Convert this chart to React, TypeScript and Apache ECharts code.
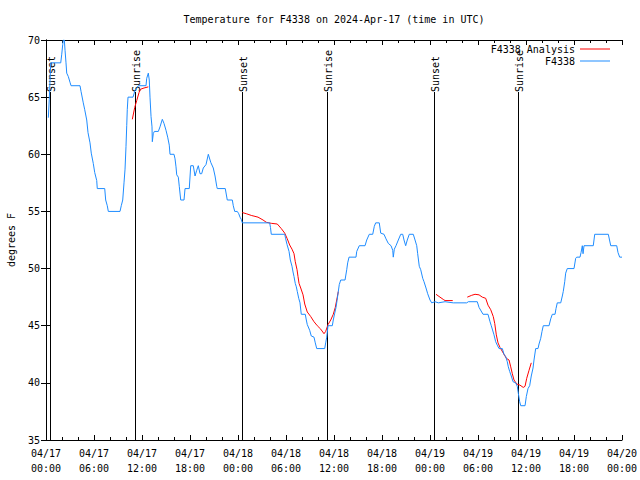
import React, { useEffect, useRef } from "react";
import * as echarts from "echarts";

// hours since 2024-04-17 00:00 UTC
const xTickLabels = [
  "04/17\n00:00", "04/17\n06:00", "04/17\n12:00", "04/17\n18:00",
  "04/18\n00:00", "04/18\n06:00", "04/18\n12:00", "04/18\n18:00",
  "04/19\n00:00", "04/19\n06:00", "04/19\n12:00", "04/19\n18:00",
  "04/20\n00:00",
];

const f4338Hours = [
  0.29, 0.41, 0.59, 1.84, 1.96, 2.09, 2.16, 2.29, 2.38, 2.5, 2.59, 2.79, 3.0, 3.13,
  4.25, 4.38, 4.66, 4.84, 5.09, 5.25, 5.5, 5.66, 5.91, 6.09, 6.34, 6.41, 7.34, 7.46,
  7.66, 7.79, 9.25, 9.41, 9.59, 9.75, 9.88, 10.0, 10.09, 10.16, 10.25, 10.5, 10.88,
  11.13, 11.54, 12.5, 12.59, 12.79, 12.91, 13.0, 13.13, 13.25, 13.29, 13.41, 13.54,
  14.04, 14.25, 14.54, 14.75, 15.0, 15.21, 15.41, 15.5, 16.0, 16.13, 16.25, 16.34,
  16.54, 16.66, 16.84, 17.25, 17.38, 17.91, 18.09, 18.41, 18.63, 18.84, 19.04, 19.25,
  19.46, 19.66, 20.0, 20.29, 20.59, 20.91, 21.13, 21.34, 21.41, 22.41, 22.66, 23.29,
  23.41, 23.59, 23.91, 24.09, 24.25, 24.41, 24.54, 27.96, 28.06, 28.16, 29.84, 29.96,
  30.13, 30.38, 30.54, 30.75, 30.88, 31.0, 31.16, 31.29, 31.41, 31.59, 31.75, 31.91,
  32.41, 32.54, 32.66, 32.96, 33.16, 33.5, 33.66, 33.84, 34.84, 34.96, 35.09, 35.25,
  35.79, 35.91, 36.09, 36.25, 36.38, 36.54, 36.66, 36.84, 37.38, 37.59, 37.71, 37.88,
  38.75, 38.84, 39.16, 39.88, 40.09, 40.41, 40.84, 41.04, 41.21, 41.66, 41.84, 42.25,
  42.5, 42.79, 43.13, 43.34, 43.41, 43.54, 43.75, 44.04, 44.34, 44.59, 44.75, 44.96,
  45.16, 45.41, 45.91, 46.13, 46.34, 46.46, 46.66, 46.84, 47.09, 47.25, 47.5, 47.71,
  48.0, 48.21, 48.63, 49.04, 49.88, 50.91, 52.59, 52.79, 53.91, 54.13, 54.63, 55.25,
  55.5, 55.66, 56.0, 56.21, 56.41, 56.63, 57.04, 57.25, 57.46, 57.66, 57.79, 57.96,
  58.16, 58.38, 58.71, 58.91, 59.04, 59.21, 59.34, 59.88, 60.04, 60.25, 60.46, 60.66,
  60.88, 61.0, 61.21, 61.5, 61.63, 61.84, 62.0, 62.16, 62.88, 63.09, 63.29, 63.63,
  63.75, 63.91, 64.34, 64.54, 64.66, 64.84, 64.96, 65.16, 66.0, 66.21, 66.34, 66.75,
  66.88, 67.04, 67.13, 67.25, 68.41, 68.59, 70.29, 70.59, 71.34, 71.5, 71.71, 72.0,
];
const f4338Temps = [
  63.2, 64.8, 68, 68, 68.7, 69.6, 70, 70, 69.1, 68, 67.1, 66.8, 66.3, 66,
  66, 65.5, 64.5, 63.9, 63, 61.9, 61, 60.1, 59.2, 58.4, 57.7, 57, 57, 56,
  55.5, 55, 55, 55.5, 56, 57.5, 58.7, 60.7, 62.5, 63.9, 65, 65, 65,
  65.6, 66, 66, 66.65, 67.1, 66.5, 65, 63.3, 62.4, 61.1, 61.8, 62,
  62, 62.4, 63.06, 62.7, 62.1, 61.5, 60.8, 60, 60, 59.6, 58.9, 58.2,
  58, 57.2, 56, 56, 57, 57, 59, 59, 58.1, 58.6, 59, 58.3,
  58.3, 58.8, 59.1, 60, 59.3, 58.8, 58.1, 57.2, 57, 57, 56, 56,
  55.5, 55, 55, 54.8, 54.5, 54.3, 54, 54, 53.6, 53, 53, 52.6,
  52.1, 51.5, 50.75, 50.2, 49.7, 49.3, 48.7, 48.4, 48, 47.4, 47, 46,
  46, 45.5, 45.1, 44.6, 44.1, 44, 43.5, 43, 43, 43.5, 44, 45,
  45, 45.5, 46.1, 46.6, 47.2, 48, 48.6, 49, 49, 49.9, 50.5, 51,
  51, 51.5, 52, 52, 52.5, 53, 53, 53.7, 54, 54, 53.1, 53,
  52.6, 52.2, 52, 51.6, 51, 51.7, 52, 52.5, 53, 53, 52.5, 52,
  52.5, 53, 53, 52.5, 52, 51.3, 50.2, 49.9, 49.15, 48.85, 48.3, 47.8,
  47.25, 47, 47.1, 47, 47.1, 47, 47, 47.1, 47.1, 46.6, 46, 46,
  45.35, 45, 44.2, 43.6, 43.3, 43, 43, 42.5, 42.3, 41.85, 41.4, 41,
  40.6, 40.1, 40, 39.7, 39.1, 38.35, 38, 38, 38.8, 39.5, 39.75, 40.6,
  41.3, 42, 43, 43, 43.4, 43.9, 44.5, 45, 45, 45.6, 46, 46,
  46.5, 47, 47, 47.6, 48, 48.85, 49.6, 50, 50, 50.9, 51, 51,
  51.4, 52, 51.3, 52, 52, 53, 53, 52, 52, 51.4, 51, 51,
];

const analysisHours = [
  [10.79, 11.09, 11.34, 11.63, 11.84, 12.25, 12.79],
  [24.54, 25.04, 25.66, 26.5, 27.13, 27.54, 28.16, 28.91, 29.41, 29.84, 30.16, 30.46,
    30.75, 31.0, 31.16, 31.38, 31.5, 31.63, 31.84, 32.13, 32.34, 32.66, 33.09, 33.5,
    33.91, 34.34, 34.75, 34.96, 35.25, 35.59, 35.91, 36.16, 36.41, 36.54],
  [48.75, 49.25, 49.66, 49.88, 50.84],
  [52.66, 53.21, 53.63, 54.13, 54.54, 54.96, 55.25, 55.59, 55.91, 56.09, 56.29, 56.5,
    56.75, 57.54, 57.88, 58.09, 58.29, 58.5, 58.84, 59.25, 59.66, 59.88, 60.09, 60.38,
    60.66],
];
const analysisTemps = [
  [63.06, 64.1, 64.7, 65.4, 65.7, 65.8, 65.9],
  [54.9, 54.8, 54.65, 54.5, 54.25, 54.05, 53.96, 53.9, 53.5, 53.1, 52.6, 52.06,
    51.7, 51.3, 50.6, 49.9, 49.3, 48.7, 48.3, 47.7, 46.9, 46.2, 45.8, 45.35,
    45.0, 44.7, 44.3, 44.5, 45.1, 45.5, 46, 46.6, 47.5, 48],
  [47.75, 47.5, 47.3, 47.2, 47.2],
  [47.5, 47.66, 47.75, 47.7, 47.5, 47.4, 46.8, 46.4, 45.8, 45.2, 44.2, 43.5,
    43.1, 42.15, 42.0, 41.4, 40.8, 40.25, 39.9, 39.8, 39.6, 39.7, 40.4, 41.1,
    41.75],
];

const sunEventHours = [0.5, 11.13, 24.5, 35.12, 48.5, 59.05];
const sunEventLabels = ["Sunset", "Sunrise", "Sunset", "Sunrise", "Sunset", "Sunrise"];
const sunLineTop = 65.45;

const MONO = '"DejaVu Sans Mono", "Liberation Mono", monospace';
const RED = "#ff0000";
const BLUE = "#1e8cff";

export default function App() {
  const ref = useRef<HTMLDivElement>(null);
  useEffect(() => {
    if (!ref.current) return;
    const chart = echarts.init(ref.current, null, { renderer: "svg" });
    const axisCommon = {
      axisLine: { show: true, lineStyle: { color: "#000", width: 1 } },
      splitLine: { show: false },
    };
    const xBase = {
      type: "value",
      min: 0,
      max: 72,
      interval: 6,
      ...axisCommon,
      axisTick: { show: true, inside: true, length: 5, lineStyle: { color: "#000" } },
      minorTick: { show: true, splitNumber: 3, length: 3, lineStyle: { color: "#000" } },
      minorSplitLine: { show: false },
    };
    const yBase = {
      type: "value",
      min: 35,
      max: 70,
      interval: 5,
      ...axisCommon,
      axisTick: { show: true, inside: true, length: 5, lineStyle: { color: "#000" } },
    };
    const analysisSeries = analysisHours.map((hs, i) => ({
      type: "line",
      name: "F4338 Analysis",
      data: hs.map((h, j) => [h, analysisTemps[i][j]]),
      showSymbol: false,
      symbol: "none",
      color: RED,
      lineStyle: { color: RED, width: 1 },
      z: 3,
    }));
    chart.setOption({
      animation: false,
      backgroundColor: "#fff",
      grid: {
        left: 46,
        right: 18,
        top: 40,
        bottom: 40,
        show: false,
        containLabel: false,
        outerBoundsMode: "none",
      },
      graphic: [
        {
          type: "text",
          x: 334,
          y: 19,
          style: {
            text: "Temperature for F4338 on 2024-Apr-17 (time in UTC)",
            textAlign: "center",
            textVerticalAlign: "middle",
            font: `10px ${MONO}`,
            fill: "#000",
          },
        },
      ],
      legend: [
        {
          data: ["F4338 Analysis"],
          right: 30,
          top: 44,
          align: "right",
          icon: "rect",
          itemWidth: 30,
          itemHeight: 1,
          padding: 0,
          textStyle: { fontFamily: MONO, fontSize: 10, color: "#000" },
        },
        {
          data: ["F4338"],
          right: 30,
          top: 56,
          align: "right",
          icon: "rect",
          itemWidth: 30,
          itemHeight: 1,
          padding: 0,
          textStyle: { fontFamily: MONO, fontSize: 10, color: "#000" },
        },
      ],
      xAxis: [
        {
          ...xBase,
          position: "bottom",
          axisLabel: {
            show: true,
            margin: 6,
            fontFamily: MONO,
            fontSize: 10,
            lineHeight: 15,
            color: "#000",
            formatter: (v: number) => xTickLabels[Math.round(v / 6)] ?? "",
          },
        },
        { ...xBase, position: "top", axisLabel: { show: false } },
      ],
      yAxis: [
        {
          ...yBase,
          position: "left",
          name: "degrees F",
          nameLocation: "middle",
          nameRotate: 90,
          nameGap: 30,
          nameTextStyle: { fontFamily: MONO, fontSize: 10, color: "#000" },
          axisLabel: { show: true, margin: 6, fontFamily: MONO, fontSize: 10, color: "#000" },
        },
        { ...yBase, position: "right", axisLabel: { show: false } },
      ],
      series: [
        {
          type: "custom",
          name: "sun",
          data: sunEventHours.map((h) => [h, 35]),
          encode: { x: 0, y: 1 },
          clip: false,
          z: 1,
          renderItem: (params: any, api: any) => {
            const h = api.value(0);
            const top = api.coord([h, sunLineTop]);
            const bot = api.coord([h, 35]);
            const x = Math.round(top[0]) + 0.5;
            return {
              type: "group",
              children: [
                {
                  type: "line",
                  shape: { x1: x, y1: top[1], x2: x, y2: bot[1] },
                  style: { stroke: "#000", lineWidth: 1 },
                },
                {
                  type: "text",
                  x: x + 0.5,
                  y: top[1],
                  rotation: Math.PI / 2,
                  style: {
                    text: sunEventLabels[params.dataIndex],
                    textAlign: "left",
                    textVerticalAlign: "middle",
                    font: `10px ${MONO}`,
                    fill: "#000",
                  },
                },
              ],
            };
          },
        },
        ...analysisSeries,
        {
          type: "line",
          name: "F4338",
          data: f4338Hours.map((h, i) => [h, f4338Temps[i]]),
          showSymbol: false,
          symbol: "none",
          color: BLUE,
          lineStyle: { color: BLUE, width: 1 },
          z: 4,
        },
      ],
    });
    return () => chart.dispose();
  }, []);
  return (
    <div
      ref={ref}
      style={{ position: "fixed", left: 0, top: 0, width: 640, height: 480, background: "#fff" }}
    />
  );
}
